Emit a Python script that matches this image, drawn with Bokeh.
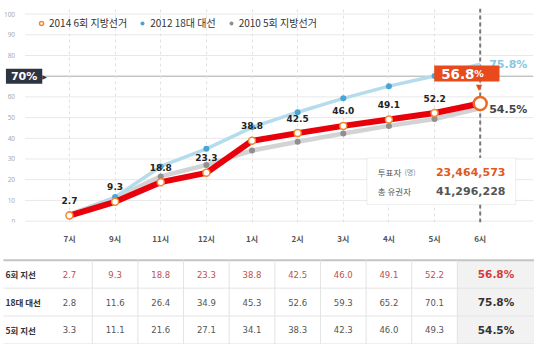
from bokeh.plotting import figure
from bokeh.layouts import column
from bokeh.models import (FixedTicker, Span, Label, BoxAnnotation, Legend,
                          LegendItem, Range1d)
from bokeh.core.properties import value
from bokeh.embed import file_html
from bokeh.resources import INLINE

# ---------------- data ----------------
hours = ["7시", "9시", "11시", "12시", "1시", "2시", "3시", "4시", "5시", "6시"]
turnout_2014 = [2.7, 9.3, 18.8, 23.3, 38.8, 42.5, 46.0, 49.1, 52.2, 56.8]
turnout_2012 = [2.8, 11.6, 26.4, 34.9, 45.3, 52.6, 59.3, 65.2, 70.1, 75.8]
turnout_2010 = [3.3, 11.1, 21.6, 27.1, 34.1, 38.3, 42.3, 46.0, 49.3, 54.5]
series_names = ["2014 6회 지방선거", "2012 18대 대선", "2010 5회 지방선거"]
row_labels = ["6회 지선", "18대 대선", "5회 지선"]
y_ticks = [0, 10, 20, 30, 40, 50, 60, 70, 80, 90, 100]
highlight_tick = 70
voters_label = "투표자"
voters_unit = "(명)"
voters_count = "23,464,573"
electorate_label = "총 유권자"
electorate_count = "41,296,228"

KR = "Noto Sans CJK KR"
NUM = "DejaVu Sans"

xs = list(range(len(hours)))
last = xs[-1]

# ---------------- chart ----------------
W, H1, H2 = 534, 250, 94
BL, BR, BT, BB = 0, 1, 8, 28
X0, X1 = -1.511, 10.168
Y0, Y1 = -0.676, 102.70
GRID_LEFT = -0.972
FRAME_H = H1 - BT - BB

p = figure(width=W, height=H1, x_range=Range1d(X0, X1), y_range=Range1d(Y0, Y1),
           output_backend="svg", toolbar_location=None,
           min_border_left=BL, min_border_right=BR, min_border_top=BT,
           min_border_bottom=BB)
p.frame_align = False
p.outline_line_color = None
p.background_fill_color = "white"
p.border_fill_color = "white"

p.xaxis.ticker = FixedTicker(ticks=xs)
p.xaxis.major_label_overrides = {i: h for i, h in enumerate(hours)}
p.xaxis.major_label_text_font = KR
p.xaxis.major_label_text_font_size = "8px"
p.xaxis.major_label_text_font_style = "bold"
p.xaxis.major_label_text_color = "#555555"
p.xaxis.major_label_standoff = 4

p.yaxis.fixed_location = GRID_LEFT
p.yaxis.ticker = FixedTicker(ticks=y_ticks)
p.yaxis.major_label_overrides = {highlight_tick: " "}
p.yaxis.major_label_text_font = "Noto Sans"
p.yaxis.major_label_text_font_size = "6.5px"
p.yaxis.major_label_text_color = "#aaaaaa"
p.yaxis.major_label_standoff = 4
for ax in (p.xaxis, p.yaxis):
    ax.axis_line_color = None
    ax.major_tick_line_color = None
    ax.minor_tick_line_color = None

p.xgrid.grid_line_color = "#e2e2e2"
p.xgrid.grid_line_dash = "3 3"
p.ygrid.visible = False

# horizontal grid lines starting at the plot's left edge
plain_ticks = [v for v in y_ticks if v != highlight_tick]
p.segment(x0=[GRID_LEFT] * len(plain_ticks), x1=[X1] * len(plain_ticks),
          y0=plain_ticks, y1=plain_ticks, line_color="#e8e8e8", line_width=1,
          level="underlay")
p.segment(x0=[GRID_LEFT], x1=[X1], y0=[highlight_tick], y1=[highlight_tick],
          line_color="#a8a8a8", line_width=1, level="underlay")
p.add_layout(Span(location=last, dimension="height", line_color="#777777",
                  line_width=2, line_dash="4 3", level="underlay"))

# series
p.line(xs, turnout_2010, line_color="#d3d3d3", line_width=4.5)
r2010 = p.scatter(xs, turnout_2010, size=6, fill_color="#8f8f8f", line_color=None)
p.line(xs, turnout_2012, line_color="#b5dced", line_width=3.5)
r2012 = p.scatter(xs[:-1], turnout_2012[:-1], size=6, fill_color="#4aa5d5",
                  line_color=None)
p.line(xs, turnout_2014, line_color="#e8000b", line_width=6)
r2014 = p.scatter(xs[:-1], turnout_2014[:-1], size=7, fill_color="white",
                  line_color="#f08a30", line_width=1.5)
p.scatter(xs[-1:], turnout_2014[-1:], size=13, fill_color="white",
          line_color="#ee6a22", line_width=2.5)

p.text(xs[:-1], turnout_2014[:-1], text=[f"{v:.1f}" for v in turnout_2014[:-1]],
       text_align="center", text_baseline="middle", y_offset=-15,
       text_font=value(NUM), text_font_style="bold", text_font_size="9px",
       text_color="#222222")

p.text([last], [turnout_2012[-1]], text=[f"{turnout_2012[-1]:.1f}%"], x_offset=9,
       text_align="left", text_baseline="middle", text_font=value(NUM),
       text_font_style="bold", text_font_size="11px", text_color="#8ac6de")
p.text([last], [turnout_2010[-1]], text=[f"{turnout_2010[-1]:.1f}%"], x_offset=9,
       y_offset=1, text_align="left", text_baseline="middle", text_font=value(NUM),
       text_font_style="bold", text_font_size="11px", text_color="#444444")

# callout
p.add_layout(Label(x=last, y=turnout_2014[-1], x_offset=-46, y_offset=30,
                   text=f"{turnout_2014[-1]:.1f}", text_align="left",
                   text_baseline="middle", text_font=NUM, text_font_style="bold",
                   text_font_size="13.5px", text_color="white",
                   background_fill_color="#e84a1c",
                   padding=dict(left=7, right=25, top=3, bottom=3)))
p.add_layout(Label(x=last, y=turnout_2014[-1], x_offset=-6, y_offset=30,
                   text="%", text_align="left", text_baseline="middle",
                   text_font=NUM, text_font_style="bold", text_font_size="9.5px",
                   text_color="white"))
p.add_layout(Label(x=last, y=turnout_2014[-1], x_offset=-1, y_offset=16,
                   text="▼", text_align="center", text_baseline="middle",
                   text_font=NUM, text_font_size="8px", text_color="#e84a1c"))

# 70% marker
p.add_layout(Label(x=GRID_LEFT, y=highlight_tick, x_offset=-1,
                   text=f"{highlight_tick}%", text_align="center",
                   text_baseline="middle", text_font=NUM, text_font_style="bold",
                   text_font_size="11px", text_color="white",
                   background_fill_color="#2d3542",
                   padding=dict(left=5, right=5, top=1, bottom=1)))
p.add_layout(Label(x=GRID_LEFT, y=highlight_tick, x_offset=19.5, text="▶",
                   text_align="center", text_baseline="middle", text_font=NUM,
                   text_font_size="6px", text_color="#2d3542"))

# info box
p.add_layout(BoxAnnotation(left=6.517, right=9.778, bottom=7.97, top=30.48,
                           fill_color="white", fill_alpha=1.0,
                           line_color="#c8c8c8", line_width=1))
for lbl, num, yv, col in [(voters_label, voters_count, 23.48, "#e05a1e"),
                          (electorate_label, electorate_count, 14.54, "#555555")]:
    p.add_layout(Label(x=6.756, y=yv, text=lbl, text_align="left",
                       text_baseline="middle", text_font=KR, text_font_size="8.5px",
                       text_color="#555555"))
    p.add_layout(Label(x=8.029, y=yv, text=num, text_align="left",
                       text_baseline="middle", text_font=NUM, text_font_style="bold",
                       text_font_size="11px", text_color=col))
p.add_layout(Label(x=7.339, y=23.48, text=voters_unit, text_align="left",
                   text_baseline="middle", text_font=KR, text_font_size="7px",
                   text_color="#888888"))

LEG_H = 10
legend = Legend(items=[LegendItem(label=series_names[0], renderers=[r2014]),
                       LegendItem(label=series_names[1], renderers=[r2012]),
                       LegendItem(label=series_names[2], renderers=[r2010])],
                orientation="horizontal", location=(36, FRAME_H - 12 - LEG_H),
                border_line_color=None, background_fill_alpha=0,
                label_text_font=KR, label_text_font_size="10px",
                label_text_color="#333333", glyph_width=10, glyph_height=LEG_H,
                label_height=LEG_H, label_standoff=3, spacing=10, margin=0,
                padding=0)
p.add_layout(legend)

# ---------------- table ----------------
TX0, TX1 = -1.511, 10.190
t = figure(width=W, height=H2, x_range=Range1d(TX0, TX1),
           y_range=Range1d(2.52, -0.849), output_backend="svg",
           toolbar_location=None, x_axis_location=None, y_axis_location=None,
           min_border=0, min_border_left=0, min_border_right=0,
           min_border_top=0, min_border_bottom=0)
t.frame_align = False
t.outline_line_color = None
t.grid.visible = False

rows = [0, 1, 2]
table_series = [turnout_2014, turnout_2012, turnout_2010]
last_col_x = 9.346
line_left, line_right = -1.446, 10.187

t.quad(left=[last - 0.5], right=[line_right], top=[-0.5], bottom=[2.5],
       fill_color="#f2f2f2", line_color=None)
t.segment(x0=[line_left] * 4, x1=[line_right] * 4, y0=[-0.5, 0.5, 1.5, 2.5],
          y1=[-0.5, 0.5, 1.5, 2.5],
          line_color=["#c4c4c4", "#e3e3e3", "#e3e3e3", "#e3e3e3"],
          line_width=[2, 1, 1, 1])
t.segment(x0=[i + 0.5 for i in xs[:-1]], x1=[i + 0.5 for i in xs[:-1]],
          y0=[-0.5] * 9, y1=[2.5] * 9, line_color="#e3e3e3", line_width=1)

t.text([-1.404] * 3, rows, text=row_labels, text_align="left", text_baseline="middle",
       text_font=value(KR), text_font_style="bold", text_font_size="8.5px",
       text_color="#333333")
for r, ser in zip(rows, table_series):
    t.text(xs[:-1], [r] * (len(xs) - 1), text=[f"{v:.1f}" for v in ser[:-1]],
           text_align="center", text_baseline="middle", text_font=value(NUM),
           text_font_size="8.5px", text_color="#c0504d" if r == 0 else "#555555")
    t.text([last_col_x], [r], text=[f"{ser[-1]:.1f}%"], text_align="center",
           text_baseline="middle", text_font=value(NUM), text_font_style="bold",
           text_font_size="10.5px", text_color="#d23c3c" if r == 0 else "#333333")

layout = column(p, t, spacing=0)
open("out.html", "w").write(file_html(layout, INLINE))
